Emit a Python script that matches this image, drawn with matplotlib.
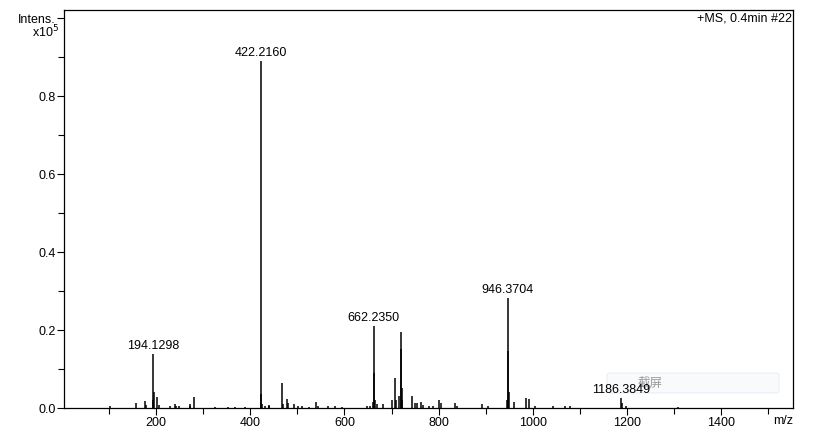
import matplotlib.pyplot as plt
from matplotlib.patches import FancyBboxPatch
from matplotlib.ticker import MultipleLocator
import numpy as np

plt.rcParams['font.family'] = ['Liberation Sans', 'Noto Sans CJK SC', 'DejaVu Sans']

# spectrum peaks (m/z, intensity in x10^5)
mz = [102, 158, 176, 179, 193.1, 194.13, 195.1, 202, 206, 230, 240, 242, 249,
      272, 273, 281, 325, 354, 368, 389,
      422.22, 423.2, 424.2, 432, 439, 441, 467, 469, 478, 480, 493, 502, 510,
      524, 540, 545, 566, 580, 594, 647, 654,
      661.2, 662.24, 663.2, 664.2, 669, 683, 700, 707.5, 710, 716, 719.3, 720.3, 721.3, 723,
      744, 749, 755, 762, 766, 780, 789, 801, 805, 835, 839, 891, 905,
      945.4, 946.37, 947.4, 948.4, 960, 985, 992, 1004, 1043, 1068, 1078,
      1186.38, 1188.4, 1198, 1308]
intens = [0.006, 0.013, 0.017, 0.008, 0.02, 0.138, 0.042, 0.027, 0.008, 0.005, 0.01, 0.006, 0.004,
          0.006, 0.01, 0.029, 0.003, 0.003, 0.003, 0.003,
          0.89, 0.036, 0.01, 0.006, 0.005, 0.008, 0.063, 0.01, 0.023, 0.012, 0.01, 0.006, 0.004,
          0.003, 0.016, 0.005, 0.004, 0.005, 0.003, 0.004, 0.005,
          0.015, 0.211, 0.09, 0.02, 0.01, 0.01, 0.02, 0.078, 0.02, 0.03, 0.194, 0.15, 0.05, 0.02,
          0.03, 0.012, 0.013, 0.015, 0.008, 0.005, 0.006, 0.02, 0.012, 0.012, 0.006, 0.01, 0.006,
          0.02, 0.282, 0.147, 0.04, 0.015, 0.026, 0.022, 0.006, 0.004, 0.004, 0.006,
          0.025, 0.012, 0.006, 0.003]

labels = ['194.1298', '422.2160', '662.2350', '946.3704', '1186.3849']
label_mz = [194.13, 422.22, 662.24, 946.37, 1186.38]
label_int = [0.138, 0.89, 0.211, 0.282, 0.025]

fig = plt.figure(figsize=(8.22, 4.35), dpi=100)
ax = fig.add_axes([64 / 822, 1 - 409 / 435, 729 / 822, 398 / 435])

ax.vlines(mz, 0, intens, color='black', lw=1.1, zorder=2)
for lab, x, y in zip(labels, label_mz, label_int):
    ax.annotate(lab, (x, y), xytext=(0, 2), textcoords='offset points',
                ha='center', va='bottom', fontsize=9, color='black', zorder=6)

ax.set_xlim(5, 1552)
ax.set_ylim(0, 1.0205)
ax.set_xticks([200, 400, 600, 800, 1000, 1200, 1400])
ax.xaxis.set_minor_locator(MultipleLocator(100))
ax.set_yticks([0, 0.2, 0.4, 0.6, 0.8, 1.0])
ax.set_yticklabels(['0.0', '0.2', '0.4', '0.6', '0.8', 'Intens.'])
ax.yaxis.set_minor_locator(MultipleLocator(0.1))
ax.tick_params(which='major', length=5, width=0.8, labelsize=9, pad=1)
ax.tick_params(which='minor', length=4, width=0.8)
for s in ax.spines.values():
    s.set_linewidth(0.9)

fig.text(59 / 822, 1 - 32 / 435, r'x10$^5$', ha='right', va='center', fontsize=9)
fig.text(783 / 822, 1 - 421 / 435, 'm/z', ha='center', va='center', fontsize=9)
ax.text(0.998, 0.995, '+MS, 0.4min #22', transform=ax.transAxes, ha='right', va='top', fontsize=9)

# screenshot overlay box, under the peak labels
box = FancyBboxPatch((607 / 822, 1 - 394 / 435), 172 / 822, 20 / 435,
                     boxstyle='round,pad=0,rounding_size=0.004', transform=fig.transFigure,
                     facecolor='#f4f7fb', edgecolor='#dce7f5', lw=0.8, alpha=0.6, zorder=3)
ax.add_patch(box)
ax.text(650 / 822, 1 - 383 / 435, '截屏', transform=fig.transFigure, ha='center', va='center',
        fontsize=9, color='#9a9a9a', family=['Noto Sans CJK SC', 'DejaVu Sans'], zorder=4)

fig.savefig('out.png', dpi=100)
